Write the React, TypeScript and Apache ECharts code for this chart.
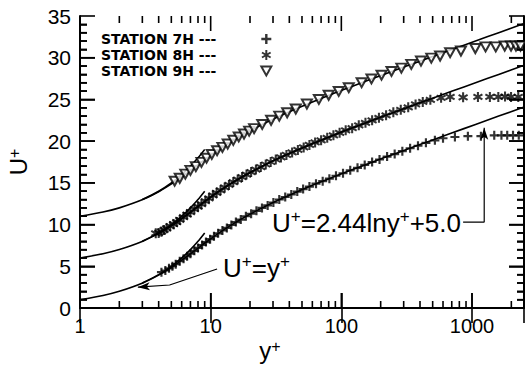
import React, { useEffect, useRef } from "react";
import * as echarts from "echarts";

// ---- Data ----
// Solid reference curves (law of the wall, offset by 0 / 5 / 10)
const curveYPlus = [1, 1.5, 2.0, 3.02, 4.06, 5.15, 6.35, 7.74, 9.42, 11.6, 14.55, 18.7, 24.8, 33.7, 47, 67, 97, 143, 211, 315, 471, 707, 1064, 1601, 2412, 2500];
const curve7H = [1, 1.5, 2, 3, 4, 5, 6, 7, 8, 9, 10, 11, 12, 13, 14, 15, 16, 17, 18, 19, 20, 21, 22, 23, 24, 24.09];
const curve8H = [6, 6.5, 7, 8, 9, 10, 11, 12, 13, 14, 15, 16, 17, 18, 19, 20, 21, 22, 23, 24, 25, 26, 27, 28, 29, 29.09];
const curve9H = [11, 11.5, 12, 13, 14, 15, 16, 17, 18, 19, 20, 21, 22, 23, 24, 25, 26, 27, 28, 29, 30, 31, 32, 33, 34, 34.09];

// Short viscous-sublayer lines U+ = y+
const linYPlus = [3, 4, 5, 6, 7, 8, 9];
const lin7H = [3, 4, 5, 6, 7, 8, 9];
const lin8H = [8, 9, 10, 11, 12, 13, 14];
const lin9H = [13, 14, 15, 16, 17, 18, 19];

// Station 7H (+)
const st7HYPlus = [4.2, 4.5, 4.8, 5.1, 5.4, 5.8, 6.2, 6.6, 7.0, 7.5, 8.0, 8.6, 9.2, 9.9, 10.6, 11.4, 12.3, 13.3, 14.4, 15.6, 17, 18.6, 20.4, 22.4, 24.7, 27.3, 30.2, 33.5, 37.2, 41.4, 46, 51, 57, 64, 72, 81, 91, 103, 117, 133, 151, 172, 196, 224, 256, 293, 336, 386, 444, 520, 600, 740, 930, 1170, 1480, 1680, 1860, 2060, 2280];
const st7HU = [4.3, 4.5, 4.75, 5.0, 5.25, 5.6, 5.9, 6.2, 6.5, 6.85, 7.2, 7.55, 7.9, 8.25, 8.6, 8.95, 9.3, 9.6, 9.95, 10.3, 10.6, 11.0, 11.3, 11.65, 12.0, 12.3, 12.65, 13.0, 13.3, 13.6, 13.95, 14.25, 14.55, 14.9, 15.2, 15.5, 15.85, 16.15, 16.5, 16.8, 17.15, 17.5, 17.8, 18.15, 18.45, 18.8, 19.15, 19.45, 19.8, 20.1, 20.35, 20.5, 20.6, 20.6, 20.7, 20.7, 20.7, 20.7, 20.7];

// Station 8H (*)
const st8HYPlus = [3.8, 4.0, 4.2, 4.4, 4.6, 4.9, 5.2, 5.5, 5.8, 6.2, 6.6, 7.0, 7.5, 8.0, 8.5, 9.1, 9.7, 10.4, 11.1, 11.9, 12.8, 13.8, 14.9, 16.1, 17.4, 18.8, 20.4, 22.2, 24.2, 26.4, 28.8, 31.5, 34.5, 38, 42, 46.5, 51.5, 57, 63, 70, 78, 87, 97, 108, 121, 136, 153, 172, 194, 220, 250, 285, 325, 370, 420, 480, 580, 680, 855, 1110, 1370, 1590, 1790, 1990, 2260];
const st8HU = [8.95, 9.0, 9.15, 9.35, 9.55, 9.8, 10.05, 10.3, 10.55, 10.9, 11.2, 11.5, 11.85, 12.15, 12.45, 12.8, 13.15, 13.5, 13.8, 14.1, 14.45, 14.75, 15.1, 15.4, 15.7, 16.0, 16.3, 16.6, 16.9, 17.2, 17.5, 17.8, 18.05, 18.35, 18.65, 18.95, 19.25, 19.55, 19.85, 20.1, 20.4, 20.7, 21.0, 21.3, 21.55, 21.9, 22.2, 22.5, 22.8, 23.1, 23.45, 23.75, 24.05, 24.4, 24.7, 24.95, 25.2, 25.3, 25.25, 25.3, 25.3, 25.3, 25.35, 25.3, 25.3];

// Station 9H (triangles)
const st9HYPlus = [5.3, 5.8, 6.4, 7.0, 7.7, 8.5, 9.3, 10.2, 11.2, 12.3, 13.5, 14.9, 16.4, 18.0, 19.7, 21.5, 24.8, 29, 33.5, 38.5, 44.8, 54.5, 67.3, 80, 95.5, 114, 143, 170, 203, 242, 288, 343, 407, 488, 570, 680, 823, 1060, 1270, 1520, 1780, 1990, 2170, 2350];
const st9HU = [15.2, 15.55, 16.05, 16.5, 16.95, 17.45, 17.95, 18.4, 18.85, 19.25, 19.65, 20.1, 20.5, 20.85, 21.2, 21.5, 22.0, 22.5, 23.0, 23.4, 23.85, 24.45, 25.0, 25.5, 25.95, 26.4, 27.0, 27.45, 27.9, 28.35, 28.75, 29.2, 29.6, 29.95, 30.2, 30.6, 30.8, 31.1, 31.3, 31.3, 31.4, 31.4, 31.4, 31.4];

// Annotation leader lines (data coordinates)
const leaderLinYPlus = [2.77, 4.85, 11.2];
const leaderLinU = [2.5, 2.76, 4.68];
const leaderLogYPlus = [1240, 1240, 855];
const leaderLogU = [21.6, 10.3, 10.3];

// Axis ranges, ticks, labels
const X_MIN = 1;
const X_MAX = 2500;
const Y_MIN = 0;
const Y_MAX = 35;
const xMajorTicks = [10, 100, 1000];
const xMinorTicks = [2, 3, 4, 5, 6, 7, 8, 9, 20, 30, 40, 50, 60, 70, 80, 90, 200, 300, 400, 500, 600, 700, 800, 900, 2000];
const xLabelValues = [1, 10, 100, 1000];
const yMajorTicks = [5, 10, 15, 20, 25, 30];
const yMinorTicks = [1, 2, 3, 4, 6, 7, 8, 9, 11, 12, 13, 14, 16, 17, 18, 19, 21, 22, 23, 24, 26, 27, 28, 29, 31, 32, 33, 34];
const legendNames = ["STATION 7H ---", "STATION 8H ---", "STATION 9H ---"];

const PLUS = "path://M3.8,0H6.2V10H3.8Z M0,3.8H10V6.2H0Z";
const STAR = "path://M4,0H6V10H4Z M0.17,3.37L1.17,1.63L9.83,6.63L8.83,8.37Z M1.17,8.37L0.17,6.63L8.83,1.63L9.83,3.37Z";
const TRI = "path://M0,0L10,0L5,9Z";

const zip = (a: number[], b: number[]) => a.map((v, i) => [v, b[i]]);

const sans = "Liberation Sans, Arial, Helvetica, sans-serif";

const GRID = { left: 80, top: 16, width: 444, height: 292 };
const MAJOR_LEN = 15;
const MINOR_LEN = 7;

export default function App() {
  const ref = useRef<HTMLDivElement>(null);
  useEffect(() => {
    if (!ref.current) return;
    const chart = echarts.init(ref.current, undefined, { renderer: "svg" });
    const lineStyle = { color: "#000", width: 1.6 };
    const curve = (data: number[][]) => ({
      type: "line",
      data,
      smooth: 0.3,
      symbol: "none",
      lineStyle,
      silent: true,
      z: 2,
    });
    const richAxis = {
      b: { fontSize: 24, fontFamily: sans, color: "#000", lineHeight: 24 },
      s: { fontSize: 16, fontFamily: sans, color: "#000", verticalAlign: "top", lineHeight: 16 },
    };
    const richNote = {
      b: { fontSize: 26, fontFamily: sans, color: "#000", lineHeight: 30 },
      s: { fontSize: 17, fontFamily: sans, color: "#000", verticalAlign: "top", lineHeight: 17 },
    };
    const tickLineStyle = { color: "#000", width: 1.6 };
    const noteTexts = [
      {
        type: "text",
        id: "noteLin",
        left: 223,
        top: 253,
        style: { text: "{b|U}{s|+}{b|=y}{s|+}", rich: richNote, fill: "#000" },
      },
      {
        type: "text",
        id: "noteLog",
        left: 272,
        top: 208,
        style: { text: "{b|U}{s|+}{b|=2.44lny}{s|+}{b|+5.0}", rich: richNote, fill: "#000" },
      },
    ];
    const option: any = {
      animation: false,
      grid: { ...GRID, containLabel: false, outerBoundsMode: "none" },
      legend: {
        data: legendNames,
        orient: "vertical",
        left: 101,
        top: 31,
        padding: 0,
        align: "right",
        itemWidth: 10,
        itemHeight: 10,
        itemGap: 0,
        selectedMode: false,
        textStyle: {
          fontFamily: "DejaVu Sans",
          fontWeight: "bold",
          fontSize: 14,
          color: "#000",
          lineHeight: 16,
          padding: [0, 40, 0, 0],
        },
      },
      xAxis: [
        {
          type: "log",
          logBase: 10,
          min: X_MIN,
          max: X_MAX,
          position: "bottom",
          name: "{b|y}{s|+}",
          nameLocation: "middle",
          nameGap: 30,
          nameMoveOverlap: false,
          nameTextStyle: { padding: [0, 64, 0, 0], rich: richAxis },
          axisLine: { show: true, lineStyle: { color: "#000", width: 2 } },
          axisTick: { show: true, inside: true, length: MAJOR_LEN, lineStyle: tickLineStyle },
          splitLine: { show: false },
          axisLabel: {
            color: "#000",
            fontSize: 20,
            lineHeight: 20,
            fontFamily: sans,
            margin: 8,
            formatter: (v: number) => {
              const r = Math.round(v);
              return xLabelValues.includes(r) && Math.abs(v - r) < 1e-6 * r ? String(r) : "";
            },
          },
        },
        {
          type: "log",
          logBase: 10,
          min: X_MIN,
          max: X_MAX,
          position: "top",
          axisLine: { show: true, lineStyle: { color: "#000", width: 2 } },
          axisTick: { show: true, inside: true, length: MAJOR_LEN, lineStyle: tickLineStyle },
          axisLabel: { show: false },
          splitLine: { show: false },
        },
      ],
      yAxis: [
        {
          type: "value",
          min: Y_MIN,
          max: Y_MAX,
          interval: 5,
          position: "left",
          name: "{b|U}{s|+}",
          nameLocation: "middle",
          nameGap: 50,
          nameRotate: 90,
          nameTextStyle: { rich: richAxis },
          axisLine: { show: true, lineStyle: { color: "#000", width: 2 } },
          axisTick: { show: true, inside: true, length: MAJOR_LEN, lineStyle: tickLineStyle },
          minorTick: { show: true, splitNumber: 5, length: MINOR_LEN, lineStyle: tickLineStyle },
          splitLine: { show: false },
          minorSplitLine: { show: false },
          axisLabel: { color: "#000", fontSize: 21, fontFamily: sans, margin: 9 },
        },
        {
          type: "value",
          min: Y_MIN,
          max: Y_MAX,
          interval: 5,
          position: "right",
          axisLine: { show: true, lineStyle: { color: "#000", width: 2 } },
          axisTick: { show: true, inside: true, length: MAJOR_LEN, lineStyle: tickLineStyle },
          minorTick: { show: true, splitNumber: 5, length: MINOR_LEN, lineStyle: tickLineStyle },
          splitLine: { show: false },
          minorSplitLine: { show: false },
          axisLabel: { show: false },
        },
      ],
      series: [
        curve(zip(curveYPlus, curve7H)),
        curve(zip(curveYPlus, curve8H)),
        curve(zip(curveYPlus, curve9H)),
        curve(zip(linYPlus, lin7H)),
        curve(zip(linYPlus, lin8H)),
        curve(zip(linYPlus, lin9H)),
        {
          name: legendNames[0],
          type: "scatter",
          data: zip(st7HYPlus, st7HU),
          symbol: PLUS,
          symbolSize: 9,
          itemStyle: { color: "#000" },
          z: 3,
        },
        {
          name: legendNames[1],
          type: "scatter",
          data: zip(st8HYPlus, st8HU),
          symbol: STAR,
          symbolSize: 10,
          itemStyle: { color: "#000" },
          z: 3,
        },
        {
          name: legendNames[2],
          type: "scatter",
          data: zip(st9HYPlus, st9HU),
          symbol: TRI,
          symbolSize: [10, 9],
          itemStyle: { color: "#fff", borderColor: "#000", borderWidth: 2 },
          z: 4,
        },
        {
          type: "line",
          silent: true,
          showSymbol: true,
          symbol: "none",
          lineStyle: { color: "#000", width: 1.2 },
          data: zip(leaderLinYPlus, leaderLinU).map((p, i) =>
            i === 0
              ? { value: p, symbol: "arrow", symbolSize: [6, 12], symbolRotate: 94, itemStyle: { color: "#000" } }
              : { value: p }
          ),
          z: 5,
        },
        {
          type: "line",
          silent: true,
          showSymbol: true,
          symbol: "none",
          lineStyle: { color: "#000", width: 1.2 },
          data: zip(leaderLogYPlus, leaderLogU).map((p, i) =>
            i === 0
              ? { value: p, symbol: "arrow", symbolSize: [6, 12], symbolRotate: 0, itemStyle: { color: "#000" } }
              : { value: p }
          ),
          z: 5,
        },
      ],
      graphic: noteTexts,
    };
    chart.setOption(option);

    // Tick marks on all four sides, placed through the axes' own scales (convertToPixel)
    const toPx = (x: number, y: number) =>
      chart.convertToPixel({ xAxisIndex: 0, yAxisIndex: 0 }, [x, y]) as number[];
    const tickEls: any[] = [];
    const addLine = (id: string, x1: number, y1: number, x2: number, y2: number) => {
      if (![x1, y1, x2, y2].every((n) => Number.isFinite(n))) return;
      tickEls.push({
        type: "line",
        id,
        silent: true,
        z: 100,
        shape: { x1, y1, x2, y2 },
        style: { stroke: "#000", lineWidth: 1.6 },
      });
    };
    const xTicks = [
      ...xMajorTicks.map((v) => [v, MAJOR_LEN]),
      ...xMinorTicks.map((v) => [v, MINOR_LEN]),
    ];
    xTicks.forEach(([v, len], i) => {
      const b = toPx(v, Y_MIN);
      const t = toPx(v, Y_MAX);
      if (b && t) {
        addLine("xb" + i, b[0], b[1], b[0], b[1] - len);
        addLine("xt" + i, t[0], t[1], t[0], t[1] + len);
      }
    });
    const yTicks = [
      ...yMajorTicks.map((v) => [v, MAJOR_LEN]),
      ...yMinorTicks.map((v) => [v, MINOR_LEN]),
    ];
    yTicks.forEach(([v, len], i) => {
      const l = toPx(X_MIN, v);
      const r = toPx(X_MAX, v);
      if (l && r) {
        addLine("yl" + i, l[0], l[1], l[0] + len, l[1]);
        addLine("yr" + i, r[0], r[1], r[0] - len, r[1]);
      }
    });
    chart.setOption({ graphic: [...noteTexts, ...tickEls] });

    return () => chart.dispose();
  }, []);
  return (
    <div
      ref={ref}
      style={{ position: "absolute", left: 0, top: 0, width: 525, height: 365, background: "#fff" }}
    />
  );
}
